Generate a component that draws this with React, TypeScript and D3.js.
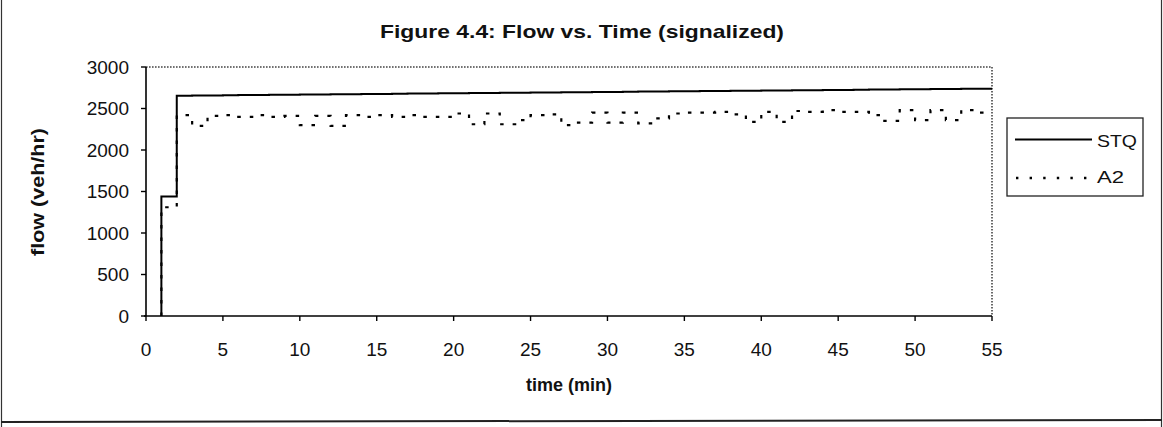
import React from "react";
import * as d3 from "d3";

// Flow per one-minute interval, starting at minute 1 (value holds until the next minute)
const stqFlow = [
  1440,
  2655, 2657, 2658, 2660, 2662, 2663, 2665, 2667, 2668, 2670,
  2671, 2673, 2675, 2676, 2678, 2680, 2681, 2683, 2684, 2686,
  2688, 2689, 2691, 2692, 2694, 2696, 2697, 2699, 2700, 2702,
  2704, 2705, 2707, 2708, 2710, 2712, 2713, 2715, 2716, 2718,
  2720, 2721, 2723, 2724, 2726, 2728, 2729, 2731, 2732, 2734, 2736, 2737, 2739,
];

const a2Flow = [
  1310,
  2420, 2290, 2410, 2420, 2400, 2420, 2400, 2410, 2300, 2410,
  2290, 2420, 2400, 2420, 2400, 2420, 2400, 2400, 2440, 2310,
  2440, 2310, 2360, 2420, 2430, 2300, 2330, 2450, 2330, 2450,
  2320, 2380, 2440, 2450, 2450, 2460, 2430, 2340, 2460, 2340,
  2470, 2460, 2480, 2460, 2460, 2420, 2350, 2480, 2360, 2480, 2360, 2480, 2450,
];

const xTicks = [0, 5, 10, 15, 20, 25, 30, 35, 40, 45, 50, 55];
const yTicks = [0, 500, 1000, 1500, 2000, 2500, 3000];
const startMinute = 1;
const endMinute = 55;

const W = 1163;
const H = 427;
const plot = { left: 146, right: 992, top: 67, bottom: 316 };
const font = "Arial, 'Liberation Sans', sans-serif";

type Pt = [number, number];

function seriesPoints(values: number[]): Pt[] {
  const pts: Pt[] = [[startMinute, 0]];
  values.forEach((v, i) => pts.push([startMinute + i, v]));
  pts.push([endMinute, values[values.length - 1]]);
  return pts;
}

export default function App() {
  const x = d3.scaleLinear().domain([0, 55]).range([plot.left, plot.right]);
  const y = d3.scaleLinear().domain([0, 3000]).range([plot.bottom, plot.top]);

  const line = d3
    .line<Pt>()
    .x((d) => x(d[0]))
    .y((d) => y(d[1]))
    .curve(d3.curveStepAfter);

  const stqPath = line(seriesPoints(stqFlow)) || "";
  const a2Path = line(seriesPoints(a2Flow)) || "";

  return (
    <svg
      width={W}
      height={H}
      viewBox={`0 0 ${W} ${H}`}
      style={{ position: "fixed", left: 0, top: 0, background: "#fff" }}
    >
      <rect x={0} y={0} width={W} height={H} fill="#fff" />

      {/* chart frame */}
      <line x1={1.5} y1={0} x2={1.5} y2={H} stroke="#333" strokeWidth={1.2} />
      <line x1={1161.5} y1={0} x2={1161.5} y2={H} stroke="#333" strokeWidth={1.2} />
      <line x1={1} y1={422} x2={1162} y2={420} stroke="#222" strokeWidth={2} />

      {/* title */}
      <text
        x={582}
        y={38}
        textAnchor="middle"
        fontFamily={font}
        fontWeight="bold"
        fontSize={19}
        textLength={404}
        lengthAdjust="spacingAndGlyphs"
        fill="#111"
      >
        Figure 4.4: Flow vs. Time (signalized)
      </text>

      {/* plot area border (top and right) */}
      <path
        d={`M${plot.left},${plot.top}H${plot.right}V${plot.bottom}`}
        fill="none"
        stroke="#444"
        strokeWidth={1.6}
        strokeDasharray="1.6 1.4"
      />

      {/* series */}
      <path d={stqPath} fill="none" stroke="#000" strokeWidth={2} />
      <path
        d={a2Path}
        fill="none"
        stroke="#000"
        strokeWidth={2.2}
        strokeDasharray="3.5 9"
      />

      {/* y axis */}
      <line x1={plot.left} y1={plot.top} x2={plot.left} y2={plot.bottom} stroke="#000" strokeWidth={1.6} />
      {yTicks.map((t) => (
        <g key={`y${t}`}>
          <line x1={plot.left - 5} y1={y(t)} x2={plot.left} y2={y(t)} stroke="#000" strokeWidth={1.4} />
          <text
            x={plot.left - 17}
            y={y(t)}
            dy="0.36em"
            textAnchor="end"
            fontFamily={font}
            fontSize={19}
            fill="#111"
          >
            {t}
          </text>
        </g>
      ))}

      {/* x axis */}
      <line x1={plot.left - 2} y1={plot.bottom} x2={plot.right} y2={plot.bottom} stroke="#000" strokeWidth={1.6} />
      {xTicks.map((t) => (
        <g key={`x${t}`}>
          <line x1={x(t)} y1={plot.bottom} x2={x(t)} y2={plot.bottom + 5} stroke="#000" strokeWidth={1.4} />
          <text
            x={x(t)}
            y={356}
            textAnchor="middle"
            fontFamily={font}
            fontSize={19}
            fill="#111"
          >
            {t}
          </text>
        </g>
      ))}

      {/* axis titles */}
      <text
        x={569}
        y={391}
        textAnchor="middle"
        fontFamily={font}
        fontWeight="bold"
        fontSize={18}
        textLength={86}
        lengthAdjust="spacingAndGlyphs"
        fill="#111"
      >
        time (min)
      </text>
      <text
        transform={`translate(44,192) rotate(-90)`}
        textAnchor="middle"
        fontFamily={font}
        fontWeight="bold"
        fontSize={19}
        textLength={128}
        lengthAdjust="spacingAndGlyphs"
        fill="#111"
      >
        flow (veh/hr)
      </text>

      {/* legend */}
      <rect x={1007} y={118} width={136} height={78} fill="#fff" stroke="#222" strokeWidth={1.3} />
      <line x1={1015} y1={139.5} x2={1092} y2={139.5} stroke="#000" strokeWidth={2} />
      <text
        x={1097}
        y={147}
        fontFamily={font}
        fontSize={17}
        textLength={40}
        lengthAdjust="spacingAndGlyphs"
        fill="#111"
      >
        STQ
      </text>
      <line
        x1={1016}
        y1={178}
        x2={1092}
        y2={178}
        stroke="#000"
        strokeWidth={2.4}
        strokeDasharray="2.4 11.2"
      />
      <text
        x={1097}
        y={183}
        fontFamily={font}
        fontSize={17}
        textLength={27}
        lengthAdjust="spacingAndGlyphs"
        fill="#111"
      >
        A2
      </text>
    </svg>
  );
}
